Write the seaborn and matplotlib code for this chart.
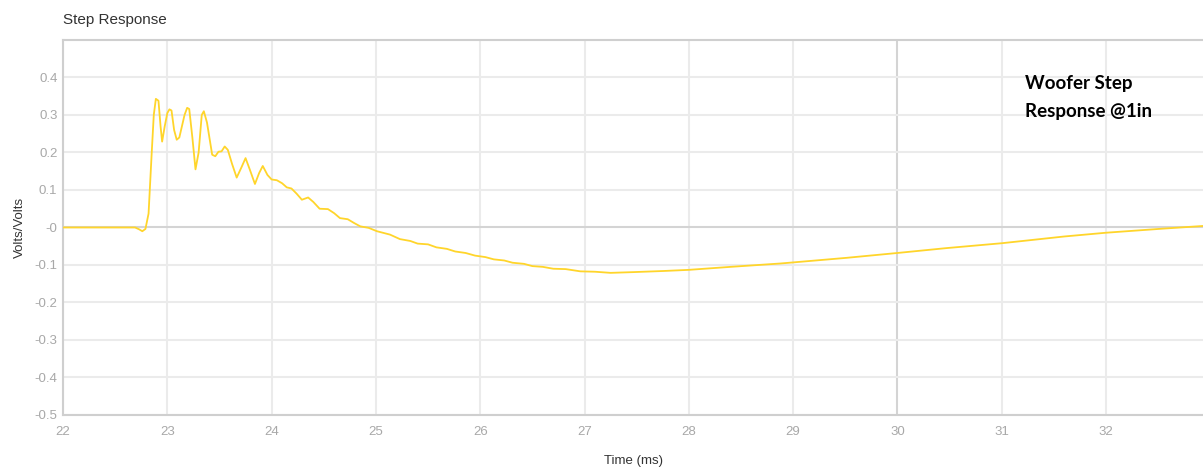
import numpy as np
import pandas as pd
import seaborn as sns
import matplotlib.pyplot as plt


#### Datos ####

time_ms = [22.0, 22.69, 22.73, 22.76, 22.79, 22.82, 22.85, 22.87, 22.89, 22.915,
           22.935, 22.95, 22.975, 23.0, 23.02, 23.04, 23.065, 23.09, 23.115, 23.14,
           23.165, 23.19, 23.21, 23.24, 23.27, 23.30, 23.33, 23.35, 23.38, 23.43,
           23.46, 23.49, 23.52, 23.55, 23.58, 23.62, 23.665, 23.71, 23.75, 23.79,
           23.84, 23.88, 23.915, 23.96, 24.0, 24.05, 24.10, 24.145, 24.19, 24.24,
           24.29, 24.35, 24.40, 24.46, 24.54, 24.60, 24.655, 24.73, 24.79, 24.85,
           24.93, 25.01, 25.135, 25.23, 25.33, 25.40, 25.50, 25.58, 25.68, 25.76,
           25.86, 25.95, 26.05, 26.13, 26.23, 26.31, 26.42, 26.50, 26.60, 26.70,
           26.82, 26.96, 27.10, 27.25, 27.47, 27.76, 28.0, 28.4, 28.88, 29.51,
           30.0, 30.47, 31.0, 31.6, 32.0, 32.55, 32.93]
volts = [0.0, 0.0, -0.005, -0.01, -0.004, 0.037, 0.198, 0.30, 0.343, 0.338,
         0.27, 0.229, 0.27, 0.305, 0.315, 0.312, 0.26, 0.234, 0.24, 0.27,
         0.30, 0.319, 0.316, 0.24, 0.155, 0.20, 0.30, 0.31, 0.28, 0.194,
         0.19, 0.202, 0.203, 0.216, 0.207, 0.17, 0.133, 0.16, 0.185, 0.155,
         0.116, 0.145, 0.164, 0.14, 0.128, 0.126, 0.118, 0.107, 0.104, 0.09,
         0.074, 0.080, 0.068, 0.050, 0.049, 0.038, 0.025, 0.022, 0.012, 0.003,
         -0.001, -0.010, -0.019, -0.031, -0.036, -0.043, -0.045, -0.053, -0.057, -0.064,
         -0.068, -0.075, -0.079, -0.085, -0.088, -0.094, -0.097, -0.103, -0.105, -0.110,
         -0.111, -0.117, -0.118, -0.121, -0.119, -0.116, -0.113, -0.105, -0.096, -0.081,
         -0.068, -0.055, -0.042, -0.024, -0.014, -0.003, 0.004]

x_ticks = list(range(22, 33))
y_ticks = [0.4, 0.3, 0.2, 0.1, 0.0, -0.1, -0.2, -0.3, -0.4, -0.5]
y_labels = ["0.4", "0.3", "0.2", "0.1", "-0", "-0.1", "-0.2", "-0.3", "-0.4", "-0.5"]

data = pd.DataFrame({"Time (ms)": time_ms, "Volts/Volts": volts})


#### Grafico ####

sns.set_style("white")
plt.rcParams['font.family'] = ['Liberation Sans', 'DejaVu Sans']

fig = plt.figure(figsize=(12.03, 4.72), dpi=100)
ax = fig.add_axes([0.0524, 0.1208, 0.9476, 0.7945])

# Rejilla clara, con la linea de cero y la de 30 ms algo mas oscuras
for xv in x_ticks:
    col = '#d4d4d4' if xv == 30 else '#ebebeb'
    ax.axvline(xv, color=col, linewidth=1.5, zorder=0)
for yv in y_ticks:
    col = '#d4d4d4' if yv == 0 else '#ebebeb'
    ax.axhline(yv, color=col, linewidth=1.5, zorder=0)

sns.lineplot(data=data, x="Time (ms)", y="Volts/Volts", color='#ffd52b',
             linewidth=1.3, ax=ax, zorder=3)

ax.set_xlim(22, 32.93)
ax.set_ylim(-0.5, 0.5)
ax.set_xticks(x_ticks)
ax.set_xticklabels([str(v) for v in x_ticks])
ax.set_yticks(y_ticks)
ax.set_yticklabels(y_labels)
ax.tick_params(axis='both', length=0, labelsize=9.5, labelcolor='#a8a8a8')
ax.tick_params(axis='x', pad=8)
ax.tick_params(axis='y', pad=4)

for side in ['left', 'bottom', 'top']:
    ax.spines[side].set_color('#cfcfcf')
    ax.spines[side].set_linewidth(1.5)
ax.spines['right'].set_visible(False)

ax.set_xlabel("Time (ms)", fontsize=9.5, color='#333333', labelpad=12)
ax.set_ylabel("Volts/Volts", fontsize=9.5, color='#333333', labelpad=6)

fig.text(0.0524, 0.95, "Step Response", fontsize=11, color='#333333')
fig.text(1025 / 1203, 1 - 75 / 472, "Woofer Step\nResponse @1in",
         fontsize=13.5, fontweight='bold', color='black', va='top', ha='left',
         linespacing=1.75, family=['Lato', 'DejaVu Sans'])

plt.savefig("out.png", dpi=100)
